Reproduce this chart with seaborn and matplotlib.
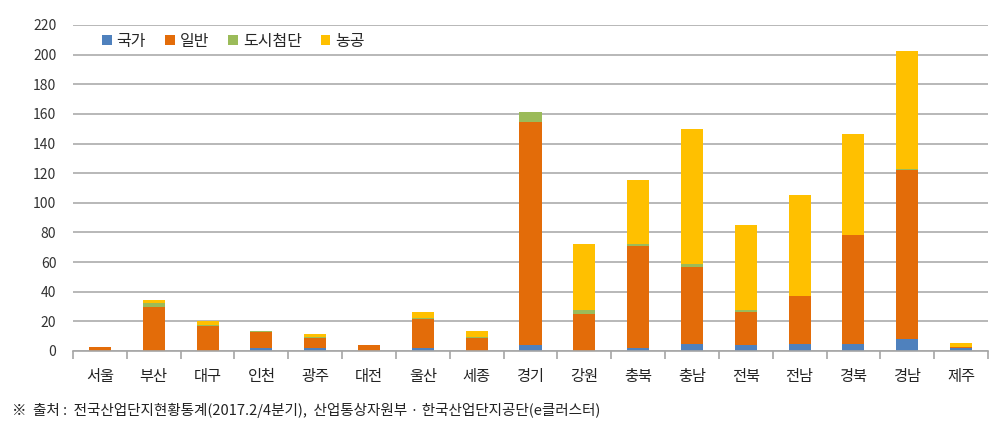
import numpy as np
import pandas as pd
import matplotlib
matplotlib.use("Agg")
import matplotlib.pyplot as plt
from matplotlib.patches import Patch
from matplotlib.ticker import FixedLocator, NullFormatter
import seaborn as sns

regions = ["서울", "부산", "대구", "인천", "광주", "대전", "울산", "세종", "경기",
           "강원", "충북", "충남", "전북", "전남", "경북", "경남", "제주"]
national = [0, 0, 0, 2, 2, 0, 2, 0, 4, 0, 2, 5, 4, 5, 5, 8, 2]
general = [3, 30, 17, 11, 7, 4, 19.5, 8.5, 150.5, 25, 69, 52, 22.5, 32, 73, 114, 0.8]
urban = [0, 2.5, 0.5, 0.7, 0.5, 0, 0.5, 0.7, 6.5, 3, 1.5, 2, 1, 0, 0, 1, 0]
agri = [0, 2, 2.5, 0, 2, 0, 4, 4, 0.5, 44, 43, 91, 57.5, 68, 68.5, 79.5, 2.5]
series_names = ["국가", "일반", "도시첨단", "농공"]
colors = ["#4F81BD", "#E36C09", "#9BBB59", "#FFC000"]
yticks = list(range(0, 221, 20))
source = "※  출처 :  전국산업단지현황통계(2017.2/4분기),  산업통상자원부 · 한국산업단지공단(e클러스터)"

sns.set_theme(style="white")
plt.rcParams['font.family'] = ['Noto Sans CJK KR', 'DejaVu Sans']

df = pd.DataFrame({"region": regions, "국가": national, "일반": general,
                   "도시첨단": urban, "농공": agri})
cum = df[series_names].cumsum(axis=1)

fig = plt.figure(figsize=(10.08, 4.30), dpi=100)
ax = fig.add_axes([73/1008, 1-351/430, (988-73)/1008, (351-25)/430])

for name, col in reversed(list(zip(series_names, colors))):
    sns.barplot(x=df["region"], y=cum[name], color=col, width=0.41,
                saturation=1, ax=ax, zorder=3, linewidth=0, order=regions)

ax.set_ylim(0, 220)
ax.set_xlim(-0.5, len(regions) - 0.5)
ax.set_yticks(yticks)
ax.set_yticklabels([str(v) for v in yticks], fontsize=10, color="#333333")
ax.yaxis.grid(True, color="#ABABAB", linewidth=1.2, zorder=0)
ax.xaxis.grid(False)
ax.set_xlabel("")
ax.set_ylabel("")
for s in ["top", "right", "left"]:
    ax.spines[s].set_visible(False)
ax.spines["bottom"].set_color("#A6A6A6")
ax.spines["bottom"].set_linewidth(1.2)
ax.spines["bottom"].set_zorder(4)
ax.tick_params(axis="y", length=0, pad=12)
ax.set_xticks(range(len(regions)))
ax.set_xticklabels(regions, fontsize=11, color="#222222")
ax.tick_params(axis="x", which="major", length=0, pad=12)
ax.xaxis.set_minor_locator(FixedLocator(np.arange(-0.5, len(regions), 1.0)))
ax.xaxis.set_minor_formatter(NullFormatter())
ax.tick_params(axis="x", which="minor", length=6, color="#A6A6A6", width=1.2, direction="out", bottom=True)

handles = [Patch(facecolor=c, edgecolor="none") for c in colors]
leg = ax.legend(handles, series_names, loc="upper left", bbox_to_anchor=(0.025, 0.995),
                ncol=4, frameon=False, fontsize=11.5, handlelength=0.6, handleheight=0.6,
                handletextpad=0.3, columnspacing=1.2, borderaxespad=0)

fig.text(12/1008, 1-410/430, source, fontsize=10.5, color="#222222", va="center", ha="left")

fig.savefig("out.png", dpi=100)
